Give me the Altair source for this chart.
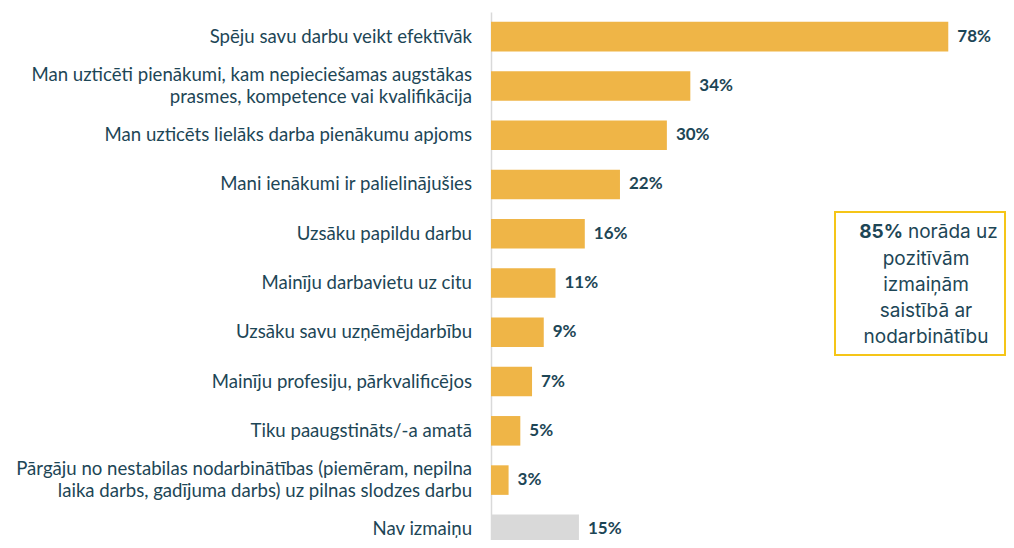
import altair as alt
import pandas as pd

categories = [
    "Spēju savu darbu veikt efektīvāk",
    "Man uzticēti pienākumi, kam nepieciešamas augstākas\nprasmes, kompetence vai kvalifikācija",
    "Man uzticēts lielāks darba pienākumu apjoms",
    "Mani ienākumi ir palielinājušies",
    "Uzsāku papildu darbu",
    "Mainīju darbavietu uz citu",
    "Uzsāku savu uzņēmējdarbību",
    "Mainīju profesiju, pārkvalificējos",
    "Tiku paaugstināts/-a amatā",
    "Pārgāju no nestabilas nodarbinātības (piemēram, nepilna\nlaika darbs, gadījuma darbs) uz pilnas slodzes darbu",
    "Nav izmaiņu",
]
values = [78, 34, 30, 22, 16, 11, 9, 7, 5, 3, 15]
groups = ["pos"] * 10 + ["none"]

box_bold = "85%"
box_first = "norāda uz"
box_lines = ["pozitīvām", "izmaiņām", "saistībā ar", "nodarbinātību"]

df = pd.DataFrame({"cat": categories, "val": values, "grp": groups})
df["lbl"] = df["val"].astype(str) + "%"
df["multi"] = df["cat"].str.contains("\n")

TXT = "#1d4656"
yscale = alt.Scale(domain=categories, range=[0, 542], paddingInner=0.4, paddingOuter=0.2)
xscale = alt.Scale(domain=[0, 80])
Y = alt.Y("cat:N", sort=categories, scale=yscale,
          axis=alt.Axis(title=None, labels=False, ticks=False, domainColor="#d9d9d9", domainWidth=1.5))

base = alt.Chart(df)

bars = base.mark_bar().encode(
    y=Y,
    x=alt.X("val:Q", scale=xscale, axis=None),
    color=alt.Color("grp:N", scale=alt.Scale(domain=["pos", "none"], range=["#efb547", "#d9d9d9"]), legend=None),
)

vals = base.mark_text(align="left", baseline="middle", dx=9, font="Lato", fontSize=17,
                      fontWeight="bold", color=TXT).encode(
    y=Y,
    x=alt.X("val:Q", scale=xscale),
    text="lbl:N",
)

LFS = 18.6
cats_single = base.transform_filter("!datum.multi").mark_text(
    align="right", baseline="middle", font="Lato", fontSize=LFS, color=TXT).encode(
    y=Y, x=alt.value(-19), text="cat:N",
)
cats_multi = base.transform_filter("datum.multi").mark_text(
    align="right", baseline="middle", font="Lato", fontSize=LFS, color=TXT,
    lineBreak="\n", lineHeight=22, dy=-11).encode(
    y=Y, x=alt.value(-19), text="cat:N",
)

one = pd.DataFrame({"a": [0]})
box = alt.Chart(one).mark_rect(fill="white", stroke="#f5c518", strokeWidth=2).encode(
    x=alt.value(344), x2=alt.value(514), y=alt.value(200), y2=alt.value(343)
)

FS = 19
layers = [bars, vals, cats_single, cats_multi, box]
layers.append(alt.Chart(pd.DataFrame({"t": [box_bold]})).mark_text(
    align="right", baseline="middle", font="Inter", fontSize=FS, fontWeight="bold", color=TXT
).encode(x=alt.value(412), y=alt.value(220), text="t:N"))
layers.append(alt.Chart(pd.DataFrame({"t": [box_first]})).mark_text(
    align="left", baseline="middle", font="Inter", fontSize=FS, color=TXT
).encode(x=alt.value(417), y=alt.value(220), text="t:N"))
for i, line in enumerate(box_lines):
    layers.append(alt.Chart(pd.DataFrame({"t": [line]})).mark_text(
        align="center", baseline="middle", font="Inter", fontSize=FS, color=TXT
    ).encode(x=alt.value(435), y=alt.value(247 + 26 * i), text="t:N"))

chart = alt.layer(*layers).properties(
    width=469, height=528,
    autosize=alt.AutoSizeParams(type="none"),
    padding={"left": 483, "top": 4, "right": 46, "bottom": 0},
).configure_view(stroke=None)

chart.save("out.html", embed_options={"renderer": "svg", "actions": False})
